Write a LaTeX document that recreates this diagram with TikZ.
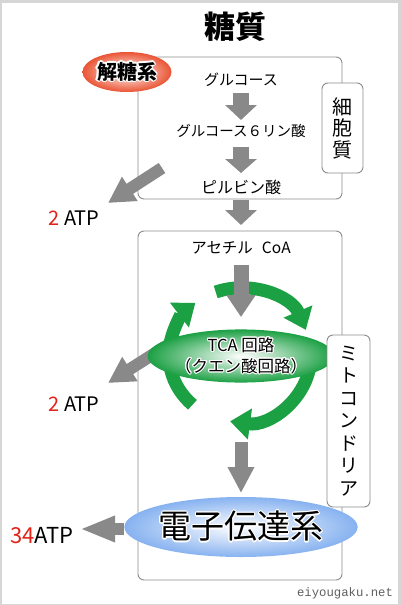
\documentclass[tikz,border=0pt]{standalone}
\usepackage{fontspec}
\setmainfont{Noto Sans CJK JP}
\newfontfamily\webfont{Liberation Mono}
\usepackage[copies]{contour}
\contourlength{1.1pt}
\usetikzlibrary{arrows.meta,shapes.geometric,calc}
\definecolor{framegray}{RGB}{214,214,214}
\definecolor{agray}{RGB}{137,137,137}
\definecolor{boxline}{RGB}{140,140,140}
\definecolor{cgreen}{RGB}{28,160,68}
\definecolor{atpred}{RGB}{225,35,25}
\definecolor{glyred}{RGB}{234,84,52}
\definecolor{etcblue}{RGB}{135,178,240}
\definecolor{webgray}{RGB}{95,95,95}
\tikzset{
  region/.style={draw=boxline, line width=0.9pt, rounded corners=6pt},
  sidebox/.style={draw=boxline, fill=white, line width=0.9pt, rounded corners=6pt,
    align=center, inner sep=0pt},
  lbl/.style={inner sep=1pt, font=\fontsize{15}{18}\selectfont},
  atp/.style={inner sep=1pt, font=\fontsize{20}{22}\selectfont},
  garrow/.style={draw=agray, line width=16pt, -{Triangle[width=31pt,length=15pt]}},
  carrow/.style={draw=cgreen, line width=13pt, -{Triangle[width=30pt,length=20pt]}},
  blob/.style={ellipse, inner sep=0pt, shading=radial, inner color=white},
}
\begin{document}
\begin{tikzpicture}[x=1pt,y=1pt]
% frame
\fill[framegray] (0,0) rectangle (401,-605);
\fill[white] (2,-3) rectangle (398,-604);
\useasboundingbox (0,0) rectangle (401,-605);

% region boxes
\draw[region] (138,-57) rectangle (342,-199);
\draw[region] (138,-231) rectangle (342,-580);

% text nodes
\node[inner sep=1pt, font=\fontsize{31}{34}\selectfont\bfseries] (title) at (235,-27) {糖質};
\node[lbl] (glc) at (241,-80) {グルコース};
\node[lbl, font=\fontsize{14.5}{17}\selectfont] (g6p) at (241,-131) {グルコース６リン酸};
\node[lbl, font=\fontsize{16}{18}\selectfont] (pyr) at (241,-187) {ピルビン酸};
\node[lbl, font=\fontsize{15.5}{18}\selectfont] (acoa) at (241,-248) {アセチル\hspace{9pt}CoA};
\node[atp] (atp1) at (74,-218) {\textcolor{atpred}{2} ATP};
\node[atp] (atp2) at (74,-404) {\textcolor{atpred}{2} ATP};
\node[atp, font=\fontsize{22}{24}\selectfont] (atp3) at (42,-536) {\textcolor{atpred}{34}ATP};
\node[inner sep=0pt, font=\webfont\fontsize{12.3}{14}\selectfont, text=webgray] (web) at (345,-593) {eiyougaku.net};

% connectors: glycolysis chain
\draw[garrow, shorten <=13pt, shorten >=11pt] (glc.center) -- (g6p.center);
\draw[garrow, -{Triangle[width=31pt,length=14pt]}, shorten <=16pt, shorten >=14pt] (g6p.center) -- (pyr.center);
\draw[garrow, shorten <=13pt, shorten >=23pt] (pyr.center) -- (acoa.center);

% diagonal arrows to 2 ATP
\coordinate (a1s) at (162,-168);
\coordinate (a1e) at (108,-203);
\draw[garrow, line width=12pt, -{Triangle[width=27pt,length=26pt]}] (a1s) -- (a1e);
\coordinate (a2s) at (171,-343);
\coordinate (a2e) at (108,-383);
\draw[garrow, line width=12pt, -{Triangle[width=27pt,length=26pt]}] (a2s) -- (a2e);

% TCA cycle arcs
\coordinate (cc) at (240,-355);
\draw[carrow] ($(cc)+(110:71 and 67)$) arc[start angle=110, end angle=22, x radius=71, y radius=67];
\draw[carrow] ($(cc)+(-8:71 and 67)$) arc[start angle=-8, end angle=-98, x radius=71, y radius=67];
\draw[carrow] ($(cc)+(228:71 and 67)$) arc[start angle=228, end angle=129, x radius=71, y radius=67];

% TCA ellipse
\node[blob, outer color=cgreen, minimum width=116pt, minimum height=44pt, align=center,
  font=\fontsize{16.5}{21}\selectfont] (tca) at (241,-356)
  {\contour{white}{TCA 回路}\\\contour{white}{（クエン酸回路）}};
\draw[garrow, line width=15pt, -{Triangle[width=28pt,length=22pt]}, shorten <=17pt, shorten >=39pt] (acoa.center) -- (tca.center);

% electron transport chain
\node[blob, outer color=etcblue, minimum width=190pt, minimum height=60pt,
  font=\fontsize{33}{36}\selectfont] (etc) at (241,-527) {\contour{white}{電子伝達系}};
\draw[garrow, line width=13pt, -{Triangle[width=25pt,length=26pt]}, shorten <=86pt, shorten >=34pt] (tca.center) -- (etc.center);
\coordinate (a3e) at (80,-529);
\draw[garrow, line width=12pt, -{Triangle[width=24pt,length=35pt]}] (etc.west |- a3e) -- (a3e);

% side labels
\node[sidebox, minimum width=41pt, minimum height=90pt, font=\fontsize{20}{21.5}\selectfont] (cyto) at (342.5,-128) {細\\胞\\質};
\node[sidebox, minimum width=43pt, minimum height=172pt, font=\fontsize{19}{22.5}\selectfont] (mito) at (348.5,-421) {ミ\\ト\\コ\\ン\\ド\\リ\\ア};

% glycolysis label
\node[blob, outer color=glyred, minimum width=89pt, minimum height=40pt,
  font=\fontsize{20}{22}\selectfont\bfseries] (glyc) at (127,-72) {\raisebox{2pt}{\contour{white}{解糖系}}};
\end{tikzpicture}
\end{document}
